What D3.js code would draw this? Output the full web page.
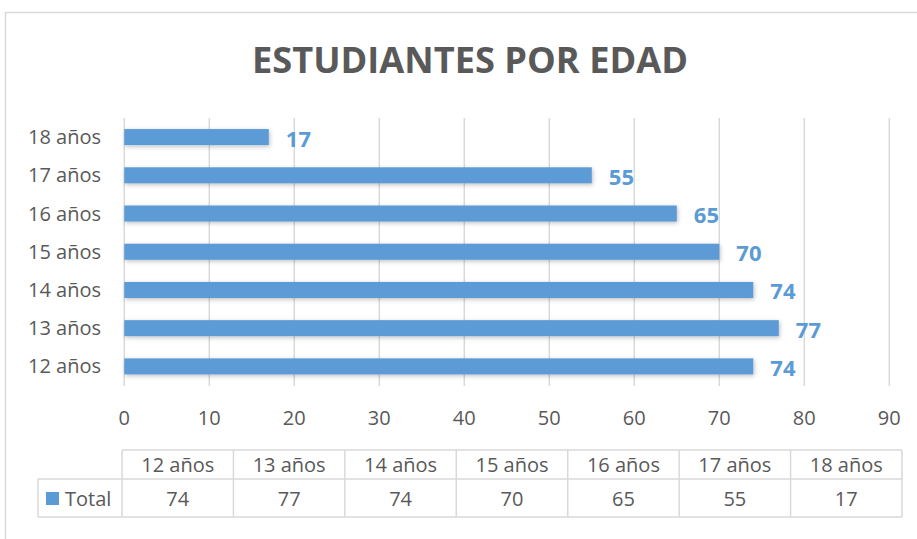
<!DOCTYPE html>
<html>
<head>
<meta charset="utf-8">
<script src="https://cdn.jsdelivr.net/npm/d3@7"></script>
<style>
    body { margin: 0; background: #fff; }
    svg { display: block; }
    text { font-family: "Open Sans", sans-serif; }
</style>
</head>
<body>
<svg id="chart" width="917" height="539"></svg>
<script>
const categories = ['12 años', '13 años', '14 años', '15 años', '16 años', '17 años', '18 años'];
const totals = [74, 77, 74, 70, 65, 55, 17];
const xTicks = [0, 10, 20, 30, 40, 50, 60, 70, 80, 90];
const seriesName = 'Total';

const BAR_COLOR = '#5b9bd5';
const TEXT_COLOR = '#595959';
const GRID_COLOR = '#d9d9d9';

const svg = d3.select('#chart');

// chart frame
svg.append('rect')
    .attr('x', 5.5).attr('y', 12.5)
    .attr('width', 940).attr('height', 560)
    .attr('fill', 'none')
    .attr('stroke', GRID_COLOR)
    .attr('stroke-width', 1.5);

// shadow for bars
const defs = svg.append('defs');
defs.append('filter')
    .attr('id', 'shadow')
    .attr('x', '-10%').attr('y', '-50%')
    .attr('width', '120%').attr('height', '200%')
    .append('feDropShadow')
    .attr('dx', 1).attr('dy', 1.5)
    .attr('stdDeviation', 2)
    .attr('flood-color', '#000')
    .attr('flood-opacity', 0.25);

// title
svg.append('text')
    .attr('x', 470).attr('y', 72.5)
    .attr('text-anchor', 'middle')
    .attr('font-size', 35)
    .attr('font-weight', 700)
    .attr('fill', TEXT_COLOR)
    .attr('textLength', 436)
    .attr('lengthAdjust', 'spacingAndGlyphs')
    .text('ESTUDIANTES POR EDAD');

const x = d3.scaleLinear().domain([0, 90]).range([124.3, 889.3]);
const y = d3.scaleBand()
    .domain(categories.slice().reverse())
    .range([118, 385.5])
    .paddingInner(0.58)
    .paddingOuter(0.29);

// gridlines
svg.append('g')
    .selectAll('line')
    .data(xTicks)
    .join('line')
    .attr('x1', d => x(d)).attr('x2', d => x(d))
    .attr('y1', 118).attr('y2', 386)
    .attr('stroke', GRID_COLOR)
    .attr('stroke-width', 1.5);

// x tick labels
svg.append('g')
    .selectAll('text')
    .data(xTicks)
    .join('text')
    .attr('x', d => x(d))
    .attr('y', 425)
    .attr('text-anchor', 'middle')
    .attr('font-size', 20)
    .attr('fill', TEXT_COLOR)
    .text(d => d);

// category labels
svg.append('g')
    .selectAll('text')
    .data(categories)
    .join('text')
    .attr('x', 101)
    .attr('y', d => y(d) + y.bandwidth() / 2 + 7)
    .attr('text-anchor', 'end')
    .attr('font-size', 20)
    .attr('fill', TEXT_COLOR)
    .text(d => d);

// bars
svg.append('g')
    .selectAll('rect')
    .data(categories)
    .join('rect')
    .attr('x', x(0))
    .attr('y', d => y(d))
    .attr('width', (d, i) => x(totals[i]) - x(0))
    .attr('height', y.bandwidth())
    .attr('fill', BAR_COLOR)
    .attr('filter', 'url(#shadow)');

// data labels
svg.append('g')
    .selectAll('text')
    .data(categories)
    .join('text')
    .attr('x', (d, i) => x(totals[i]) + 17)
    .attr('y', d => y(d) + y.bandwidth() / 2 + 9.5)
    .attr('font-size', 22)
    .attr('font-weight', 700)
    .attr('fill', BAR_COLOR)
    .text((d, i) => totals[i]);

// data table
const col = d3.scaleBand().domain(categories).range([122, 902]);
const rowTop = 450, rowMid = 479, rowBot = 517;
const table = svg.append('g')
    .attr('stroke', GRID_COLOR)
    .attr('stroke-width', 1.5);

table.append('line').attr('x1', 122).attr('x2', 902).attr('y1', rowTop).attr('y2', rowTop);
table.append('line').attr('x1', 38).attr('x2', 902).attr('y1', rowMid).attr('y2', rowMid);
table.append('line').attr('x1', 38).attr('x2', 902).attr('y1', rowBot).attr('y2', rowBot);
table.append('line').attr('x1', 38).attr('x2', 38).attr('y1', rowMid).attr('y2', rowBot);
table.selectAll('line.v')
    .data(categories.concat(['end']))
    .join('line')
    .attr('class', 'v')
    .attr('x1', (d, i) => 122 + i * col.step())
    .attr('x2', (d, i) => 122 + i * col.step())
    .attr('y1', rowTop).attr('y2', rowBot);

svg.append('g')
    .selectAll('text')
    .data(categories)
    .join('text')
    .attr('x', d => col(d) + col.bandwidth() / 2)
    .attr('y', 472)
    .attr('text-anchor', 'middle')
    .attr('font-size', 20)
    .attr('fill', TEXT_COLOR)
    .text(d => d);

svg.append('g')
    .selectAll('text')
    .data(categories)
    .join('text')
    .attr('x', d => col(d) + col.bandwidth() / 2)
    .attr('y', 506)
    .attr('text-anchor', 'middle')
    .attr('font-size', 20)
    .attr('fill', TEXT_COLOR)
    .text((d, i) => totals[i]);

// legend key
svg.append('rect')
    .attr('x', 46).attr('y', 492)
    .attr('width', 13).attr('height', 13)
    .attr('fill', BAR_COLOR);
svg.append('text')
    .attr('x', 65).attr('y', 506)
    .attr('font-size', 20)
    .attr('fill', TEXT_COLOR)
    .text(seriesName);
</script>
</body>
</html>
